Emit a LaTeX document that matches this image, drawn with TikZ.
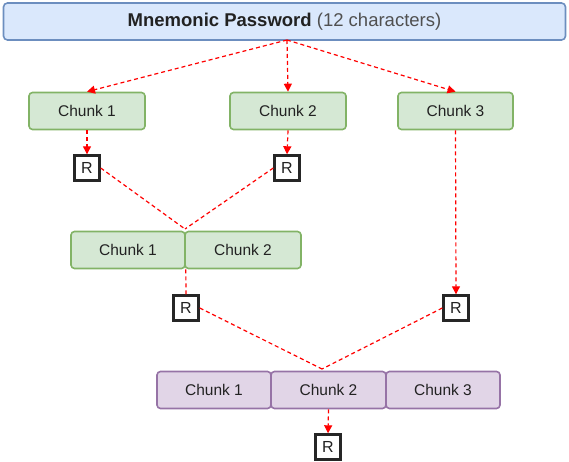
\documentclass[tikz,border=0pt]{standalone}
\usepackage{fontspec}
\setmainfont{Liberation Sans}
\usetikzlibrary{arrows.meta}
\definecolor{pwfill}{HTML}{DAE8FC}
\definecolor{pwline}{HTML}{6C8EBF}
\definecolor{grfill}{HTML}{D5E8D4}
\definecolor{grline}{HTML}{82B366}
\definecolor{pufill}{HTML}{E1D5E7}
\definecolor{puline}{HTML}{9673A6}
\definecolor{txt}{HTML}{222222}
\definecolor{subtxt}{HTML}{505050}
\tikzset{
  chunkbox/.style={draw=grline, fill=grfill, line width=1.6pt, rounded corners=3.5pt,
    minimum height=37pt, inner sep=0pt, text=txt, font=\fontsize{15.5}{18}\selectfont},
  mixbox/.style={draw=puline, fill=pufill, line width=1.6pt, rounded corners=3.5pt,
    minimum height=37pt, inner sep=0pt, text=txt, font=\fontsize{15.5}{18}\selectfont},
  rbox/.style={draw=black!85, fill=white, line width=2.4pt, minimum width=25pt,
    minimum height=25pt, inner sep=0pt, text=txt, font=\fontsize{16}{18}\selectfont},
  flow/.style={draw=red, line width=1.2pt, dash pattern=on 4pt off 3pt},
  flowarrow/.style={flow, -{Triangle[length=8pt,width=8pt]}},
}
\begin{document}
\begin{tikzpicture}[x=1pt,y=-1pt]
\useasboundingbox (0,0) rectangle (569,462);

% password box
\node[draw=pwline, fill=pwfill, line width=1.6pt, rounded corners=4pt,
  minimum width=562pt, minimum height=37pt, inner sep=0pt]
  (pw) at (284.5,21.5)
  {\fontsize{18.5}{22}\selectfont\color{txt}\textbf{Mnemonic Password}\color{subtxt}\ (12 characters)};
\coordinate (split) at (287,40);

% first row of chunks
\node[chunkbox, minimum width=116pt] (c1) at (87,111) {Chunk 1};
\node[chunkbox, minimum width=116pt] (c2) at (288,111) {Chunk 2};
\node[chunkbox, minimum width=115pt] (c3) at (455.5,111) {Chunk 3};

\node[rbox] (r1a) at (87,168) {R};
\node[rbox] (r1b) at (287,168) {R};

% second row: chunks 1 and 2 combined
\node[chunkbox, minimum width=114pt] (b1) at (128,250) {Chunk 1};
\node[chunkbox, minimum width=116pt] (b2) at (243,250) {Chunk 2};
\coordinate (v1) at (185,229);

\node[rbox] (r2a) at (186,308) {R};
\node[rbox] (r2b) at (456,308) {R};

% third row: all three chunks
\node[mixbox, minimum width=114pt] (d1) at (214,390) {Chunk 1};
\node[mixbox, minimum width=115pt] (d2) at (328.5,390) {Chunk 2};
\node[mixbox, minimum width=114pt] (d3) at (443,390) {Chunk 3};
\coordinate (v2) at (322,369);

\node[rbox] (r3) at (328,447) {R};

% connectors
\draw[flowarrow] (split) -- (c1.north);
\draw[flowarrow] (split) -- (c2.north);
\draw[flowarrow] (split) -- (c3.north);

\draw[flowarrow] (c1.south) -- (r1a.north);
\draw[flowarrow] (c2.south) -- (r1b.north);

\draw[flow] (r1a.east) -- (v1);
\draw[flow] (r1b.west) -- (v1);

\draw[flow] (b1.south east) -- (r2a.north);
\draw[flowarrow] (c3.south) -- (r2b.north);

\draw[flow] (r2a.east) -- (v2);
\draw[flow] (r2b.west) -- (v2);

\draw[flowarrow] (d2.south) -- (r3.north);
\end{tikzpicture}
\end{document}
